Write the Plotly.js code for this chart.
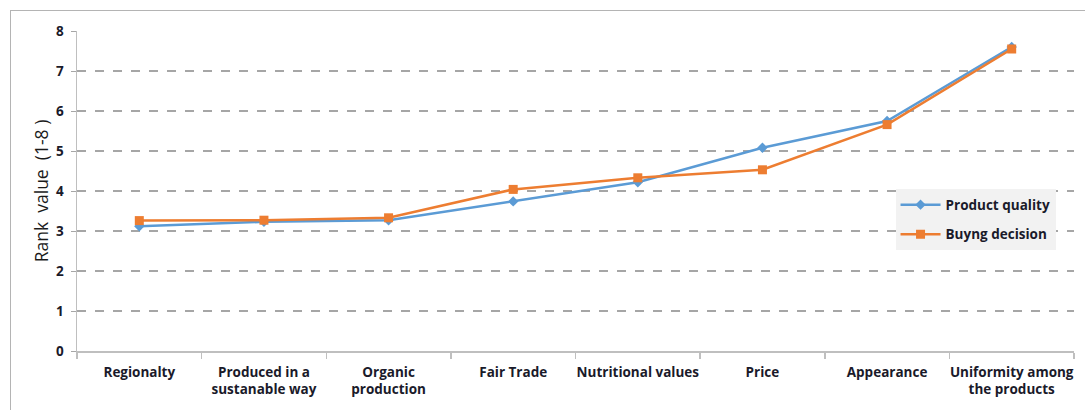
<!DOCTYPE html>
<html>
<head>
<meta charset="utf-8">
<script src="https://cdn.plot.ly/plotly-3.0.1.min.js"></script>
<style>
  html, body { margin: 0; padding: 0; background: #fff; overflow: hidden; }
  #frame { position: absolute; left: 10px; top: 10px; width: 1100px; height: 440px;
           border-left: 1.5px solid #b4b4b4; border-top: 1.5px solid #b4b4b4; }
  #chart { position: absolute; left: 0; top: 0; width: 1085px; height: 410px; }
</style>
</head>
<body>
<div id="frame"></div>
<div id="chart"></div>
<script>
// Attributes ranked by respondents
const categories = [
  "Regionalty",
  "Produced in a<br>sustanable way",
  "Organic<br>production",
  "Fair Trade",
  "Nutritional values",
  "Price",
  "Appearance",
  "Uniformity among<br>the products"
];
const productQuality = [3.12, 3.23, 3.27, 3.74, 4.22, 5.08, 5.75, 7.6];
const buyingDecision = [3.26, 3.27, 3.33, 4.04, 4.33, 4.53, 5.66, 7.55];
const yTicks = [0, 1, 2, 3, 4, 5, 6, 7, 8];

const traces = [
  {
    x: categories, y: productQuality, name: "Product quality", legendgroup: "q",
    type: "scatter", mode: "lines+markers",
    line: { color: "#5b9bd5", width: 2.5 },
    marker: { symbol: "diamond", size: 8, color: "#5b9bd5" }
  },
  {
    x: categories, y: buyingDecision, name: "Buyng decision", legendgroup: "b",
    type: "scatter", mode: "lines+markers",
    line: { color: "#ed7d31", width: 2.5 },
    marker: { symbol: "square", size: 9, color: "#ed7d31" }
  }
];

const fontFamily = "Open Sans, Liberation Sans, sans-serif";
const tickFont = { family: fontFamily, size: 13.5, color: "#1a1a2a", weight: 700 };

const layout = {
  width: 1085, height: 410,
  margin: { l: 77, r: 11, t: 31, b: 59 },
  paper_bgcolor: "rgba(0,0,0,0)",
  plot_bgcolor: "#ffffff",
  showlegend: true,
  legend: {
    x: 0.821, y: 0.505, xanchor: "left", yanchor: "top",
    bgcolor: "#f2f2f2",
    font: { family: fontFamily, size: 13.5, color: "#1a1a2a", weight: 700 },
    traceorder: "grouped",
    tracegroupgap: 9,
    itemwidth: 40
  },
  xaxis: {
    type: "category",
    tickfont: tickFont,
    tickangle: 0,
    showgrid: false,
    showline: true, linecolor: "#bfbfbf", linewidth: 1.5,
    ticks: "outside", tickson: "boundaries", ticklen: 6, tickcolor: "#bfbfbf", tickwidth: 1.5,
    ticklabelstandoff: 8,
    range: [-0.5, 7.5]
  },
  yaxis: {
    range: [0, 8],
    tickvals: yTicks,
    tickfont: tickFont,
    showgrid: true, gridcolor: "#a6a6a6", griddash: "dash", gridwidth: 1.2,
    showline: true, linecolor: "#bfbfbf", linewidth: 1.5,
    ticks: "outside", ticklen: 5, tickcolor: "#a6a6a6",
    ticklabelstandoff: 4,
    zeroline: false,
    title: { text: "Rank  value  (1-8 )", font: { family: fontFamily, size: 17.5, color: "#1a1a1a" }, standoff: 3 }
  }
};

Plotly.newPlot("chart", traces, layout, { displayModeBar: false, staticPlot: true });
</script>
</body>
</html>
